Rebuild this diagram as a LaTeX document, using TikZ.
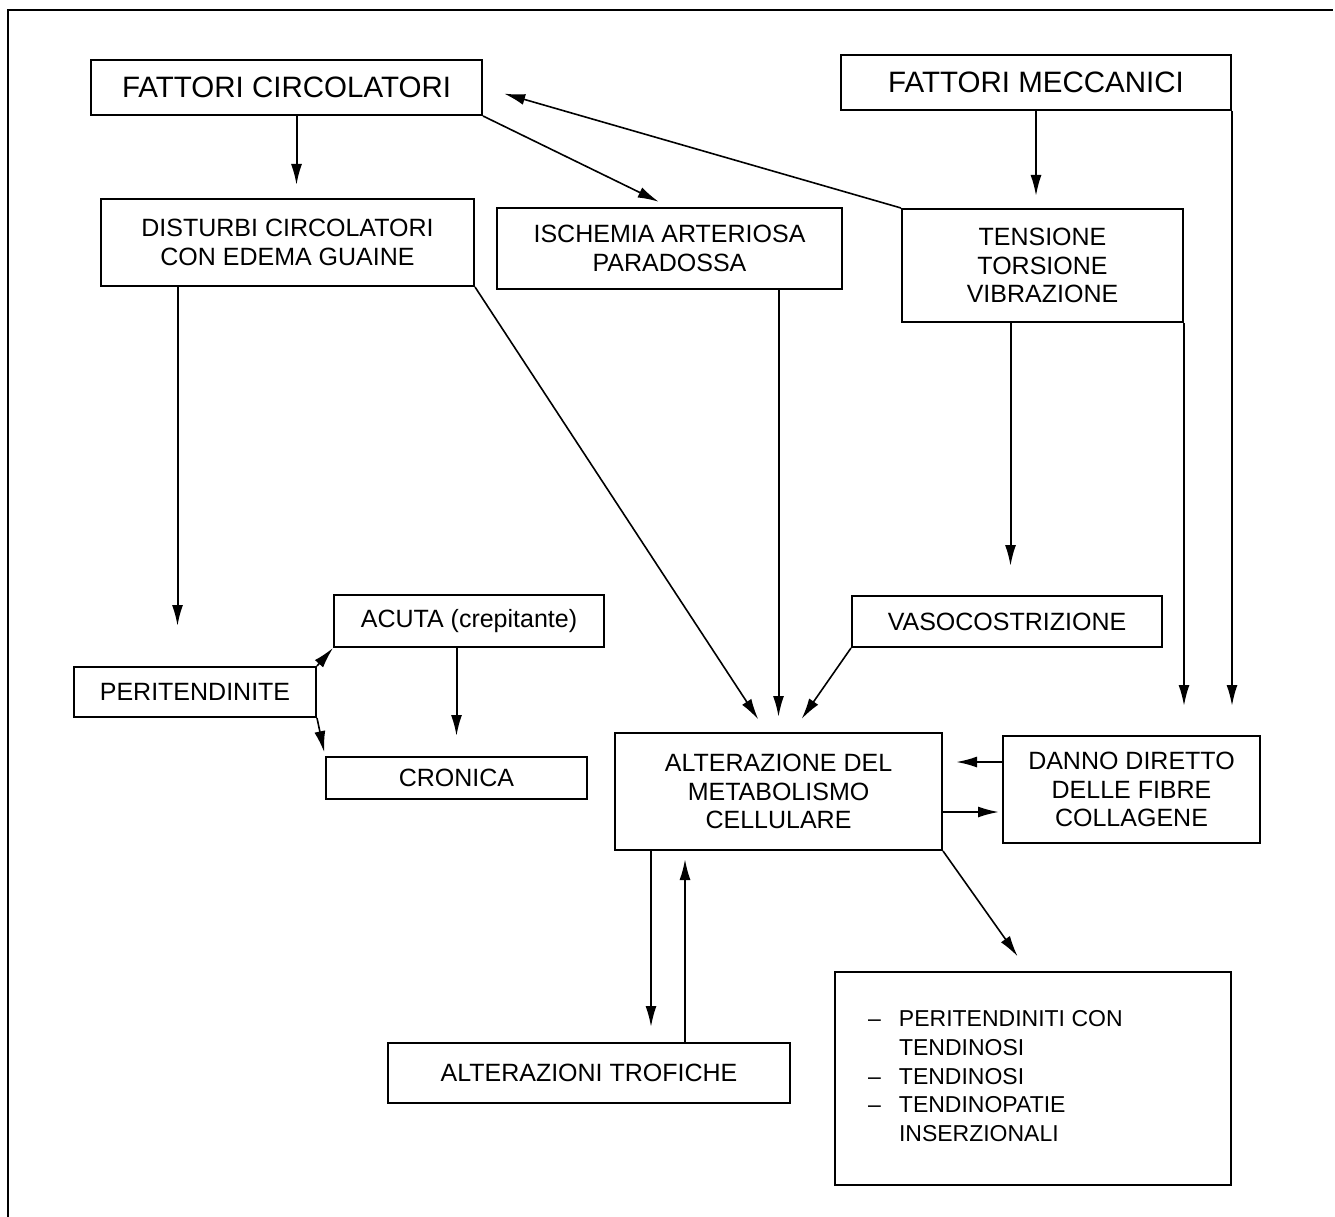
\documentclass[tikz,border=0pt]{standalone}
\usepackage{fontspec}
\setmainfont{Liberation Sans}
\usepackage{tikz}
\usetikzlibrary{arrows.meta}

\begin{document}
\begin{tikzpicture}[x=1pt, y=-1pt]
    % Define styles for boxes and arrows
    \tikzset{
        box/.style={draw=black, line width=2pt, align=center, inner sep=0pt},
        headfont/.style={font=\fontsize{29.5}{34}\selectfont},
        midfont/.style={font=\fontsize{25}{28.3}\selectfont},
        arr/.style={draw=black, line width=2pt, -{Latex[length=21pt,width=11pt]}},
        slant/.style={arr, line width=1.6pt},
        plain/.style={draw=black, line width=2pt}
    }
    \useasboundingbox (0,0) rectangle (1335,1217);

    % outer frame (left and top only)
    \draw[plain] (8,1217) -- (8,10) -- (1333,10);

    % ==========================================
    % TOP ROW
    % ==========================================
    \node[box, headfont, minimum width=391pt, minimum height=55pt] (fc) at (286.5,87.5) {FATTORI CIRCOLATORI};
    \node[box, headfont, minimum width=390pt, minimum height=55pt] (fm) at (1036,82.5) {FATTORI MECCANICI};

    % ==========================================
    % SECOND ROW
    % ==========================================
    \node[box, midfont, minimum width=373pt, minimum height=87pt] (dist) at (287.5,242.5) {DISTURBI CIRCOLATORI\\CON EDEMA GUAINE};
    \node[box, midfont, minimum width=345pt, minimum height=81pt] (isch) at (669.5,248.5) {ISCHEMIA ARTERIOSA\\PARADOSSA};
    \node[box, midfont, minimum width=281pt, minimum height=113pt] (tens) at (1042.5,265.5) {TENSIONE\\TORSIONE\\VIBRAZIONE};

    % ==========================================
    % MIDDLE
    % ==========================================
    \node[box, midfont, minimum width=310pt, minimum height=51pt] (vaso) at (1007,621.5) {VASOCOSTRIZIONE};
    \node[box, midfont, minimum width=270pt, minimum height=52pt] (acuta) at (469,621) {ACUTA (crepitante)};
    \node[box, midfont, minimum width=242pt, minimum height=50pt] (perit) at (195,692) {PERITENDINITE};
    \node[box, midfont, minimum width=261pt, minimum height=42pt] (cron) at (456.5,778) {CRONICA};
    \node[box, midfont, minimum width=327pt, minimum height=117pt] (alter) at (778.5,791.5) {ALTERAZIONE DEL\\METABOLISMO\\CELLULARE};
    \node[box, midfont, minimum width=257pt, minimum height=107pt] (danno) at (1131.5,789.5) {DANNO DIRETTO\\DELLE FIBRE\\COLLAGENE};

    % ==========================================
    % BOTTOM ROW
    % ==========================================
    \node[box, midfont, minimum width=402pt, minimum height=60pt] (trof) at (589,1073) {ALTERAZIONI TROFICHE};
    \node[box, minimum width=396pt, minimum height=213pt] (list) at (1033,1078.5) {};
    \node[anchor=west, inner sep=0pt, font=\fontsize{23}{28.7}\selectfont] (listtxt) at ([xshift=34pt]list.west)
        {\begin{tabular}{@{}l@{\hspace{18pt}}l@{}}
         -- & PERITENDINITI CON\\
            & TENDINOSI\\
         -- & TENDINOSI\\
         -- & TENDINOPATIE\\
            & INSERZIONALI
         \end{tabular}};

    % ==========================================
    % ARROWS
    % ==========================================
    % 1. from the circulatory factors
    \draw[arr, shorten >=13pt] ([xshift=10pt]fc.south) -- ([xshift=10pt]fc.south |- dist.north);
    \draw[slant, shorten >=12pt] (fc.south east) -- (isch.north);
    \draw[slant, shorten >=22pt] (tens.north west) -- (fc.east);
    % 2. from the mechanical factors
    \draw[arr, shorten >=12pt] (fm.south) -- (fm.south |- tens.north);
    \draw[arr, shorten >=29pt] (fm.south east) -- (fm.south east |- danno.north);
    \draw[arr, shorten >=29pt] (tens.south east) -- (tens.south east |- danno.north);
    \draw[arr, shorten >=29pt] ([xshift=-32pt]tens.south) -- ([xshift=-32pt]tens.south |- vaso.north);
    % 3. into the cellular metabolism
    \draw[arr, shorten >=40pt] ([xshift=-110pt]dist.south) -- ([xshift=-110pt]dist.south |- perit.north);
    \draw[slant, shorten >=15pt] (dist.south east) -- ([xshift=-12pt]alter.north);
    \draw[arr, shorten >=15pt] (alter.north |- isch.south) -- (alter.north);
    \draw[slant, shorten >=16pt] (vaso.south west) -- ([xshift=14pt]alter.north);
    % 4. peritendinite
    \draw[slant] (perit.north east) -- (acuta.south west);
    \draw[slant, shorten >=4pt] (perit.south east) -- (cron.north west);
    \draw[arr, shorten >=20pt] (cron.north |- acuta.south) -- (cron.north);
    % 5. around the cellular metabolism
    \draw[arr, shorten >=13pt] ([yshift=27.5pt]danno.west) -- ([yshift=27.5pt]danno.west -| alter.east);
    \draw[arr, shorten >=3pt] ([yshift=-20.5pt]alter.east) -- ([yshift=-20.5pt]alter.east -| danno.west);
    \draw[slant, shorten >=18pt] (alter.south east) -- ([xshift=-5pt]list.north);
    \draw[arr, shorten >=15pt] ([xshift=-127.5pt]alter.south) -- ([xshift=-127.5pt]alter.south |- trof.north);
    \draw[arr, shorten >=8pt] ([xshift=96pt]trof.north) -- ([xshift=96pt]trof.north |- alter.south);

\end{tikzpicture}
\end{document}
